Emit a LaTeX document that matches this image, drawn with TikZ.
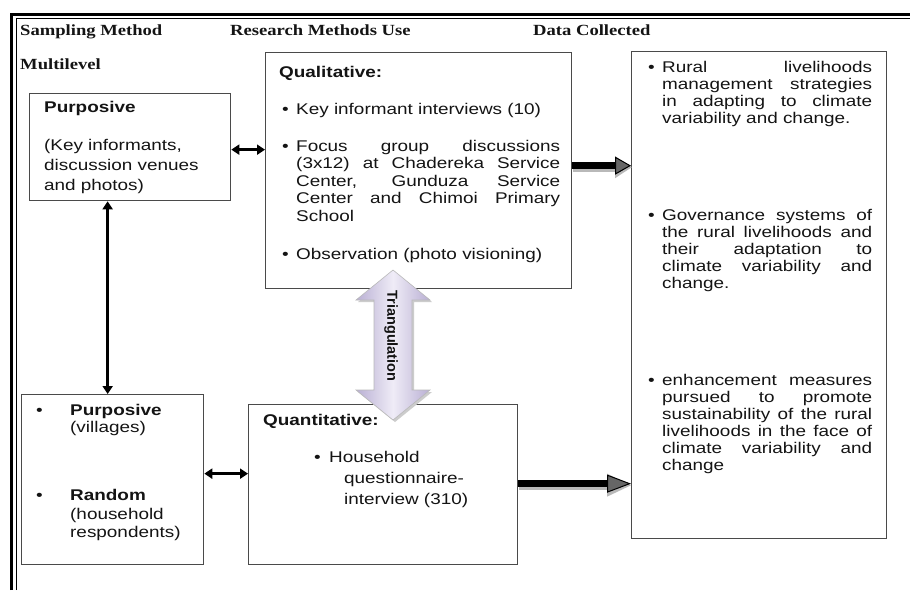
\documentclass[tikz,border=0pt]{standalone}
\usepackage{fontspec}
\setmainfont{Liberation Sans}[FakeStretch=1.22]
\newfontfamily\hdrfont{Liberation Serif}[FakeStretch=1.2]
\newfontfamily\trifont{Liberation Sans}
\usetikzlibrary{arrows.meta,calc}
\hyphenpenalty=10000 \exhyphenpenalty=10000 \tolerance=10000 \hbadness=10000
\definecolor{boxline}{HTML}{4A4A4A}
\definecolor{txt}{HTML}{141414}
\definecolor{lavD}{HTML}{B9AFD3}
\definecolor{lavL}{HTML}{EFECF7}
\begin{document}
\begin{tikzpicture}[x=1pt,y=-1pt,
  box/.style={draw=boxline, line width=1.3pt, fill=white, inner sep=0pt, anchor=north west},
  body/.style={font=\fontsize{15.5}{17}\selectfont, text=txt, inner sep=0pt, anchor=base west},
  hdr/.style={font=\hdrfont\bfseries\fontsize{15.5}{17}\selectfont, text=txt, inner sep=0pt, anchor=base west},
  para/.style={body, text width=#1, align=justify},
  lines/.style={body, text width=#1, align=left},
  thinarrow/.style={line width=2.6pt, {Triangle[length=8pt,width=10pt]}-{Triangle[length=8pt,width=10pt]}},
  bigarrowshadow/.style={line width=9pt, draw=gray!55},
  bigarrow/.style={line width=7pt, draw=black}
]
\useasboundingbox (0,0) rectangle (910,590);
\fill[white] (0,0) rectangle (910,590);
% frame
\draw[line width=3pt] (11.5,590) -- (11.5,14.5) -- (910,14.5);
\draw[line width=1pt] (16,590) -- (16,18.5) -- (910,18.5);
% headers
\node[hdr] (h1) at (20,35) {Sampling Method};
\node[hdr] (h2) at (230,35) {Research Methods Use};
\node[hdr] (h3) at (533,35) {Data Collected};
\node[hdr] (h4) at (20,69.5) {Multilevel};
% boxes
\node[box, minimum width=201pt, minimum height=107pt] (purp) at (29,93) {};
\node[box, minimum width=306pt, minimum height=236pt] (qual) at (265,52) {};
\node[box, minimum width=255pt, minimum height=487pt] (data) at (631,51) {};
\node[box, minimum width=182pt, minimum height=170pt] (bl) at (21,394) {};
\node[box, minimum width=269pt, minimum height=160pt] (quant) at (248,404) {};
% purposive box text
\node[body, font=\bfseries\fontsize{15.5}{17}\selectfont] (pt1) at (44,112.5) {Purposive};
\node[lines=180pt, font=\fontsize{15.5}{20}\selectfont] (pt2) at (44,150) {(Key informants,\\discussion venues\\and photos)};
% qualitative text
\node[body, font=\bfseries\fontsize{15.5}{17}\selectfont] (qt0) at (279,77) {Qualitative:};
\node[body] (qb1) at (282,114) {•};
\node[para=264pt] (qt1) at (296,114) {Key informant interviews (10)};
\node[body] (qb2) at (282,151) {•};
\node[para=264pt, font=\fontsize{15.5}{17.5}\selectfont] (qt2) at (296,151) {Focus group discussions\linebreak (3x12) at Chadereka Service\linebreak Center, Gunduza Service\linebreak Center and Chimoi Primary\linebreak School};
\node[body] (qb3) at (282,259) {•};
\node[para=264pt] (qt3) at (296,259) {Observation (photo visioning)};
% data collected text
\node[body] (db1) at (648,72) {•};
\node[para=210pt] (dt1) at (662,72) {Rural livelihoods\linebreak management strategies\linebreak in adapting to climate\linebreak variability and change.};
\node[body] (db2) at (648,220) {•};
\node[para=210pt] (dt2) at (662,220) {Governance systems of\linebreak the rural livelihoods and\linebreak their adaptation to\linebreak climate variability and\linebreak change.};
\node[body] (db3) at (648,385) {•};
\node[para=210pt] (dt3) at (662,385) {enhancement measures\linebreak pursued to promote\linebreak sustainability of the rural\linebreak livelihoods in the face of\linebreak climate variability and\linebreak change};
% bottom-left text
\node[body] (bb1) at (36,415.5) {•};
\node[lines=130pt] (bt1) at (70,415.5) {\textbf{Purposive}\\(villages)};
\node[body] (bb2) at (36,500.5) {•};
\node[lines=130pt, font=\fontsize{15.5}{18.5}\selectfont] (bt2) at (70,500.5) {\textbf{Random}\\(household\\respondents)};
% quantitative text
\node[body, font=\bfseries\fontsize{15.5}{17}\selectfont] (nt0) at (263,425) {Quantitative:};
\node[body] (nb1) at (314,462) {•};
\node[body] (nt1) at (329,462) {Household};
\node[lines=160pt, font=\fontsize{15.5}{21}\selectfont] (nt2) at (344,483) {questionnaire-\\interview (310)};
% thin double arrows
\coordinate (pa) at ([yshift=-2.5pt]purp.east);
\draw[thinarrow] (pa) -- (pa -| qual.west);
\coordinate (ba) at ([yshift=6pt]bl.east);
\draw[thinarrow] (ba) -- (ba -| quant.west);
\coordinate (va) at ([xshift=-22.5pt]purp.south);
\draw[thinarrow] (va) -- (va |- bl.north);
% big arrows
\coordinate (ua) at ([yshift=5pt]qual.east);
\coordinate (ub) at (ua -| data.west);
\draw[bigarrowshadow, -{Triangle[length=17pt,width=21pt]}] ([shift={(1pt,-1.5pt)}]ua) -- ([shift={(1pt,-1.5pt)}]ub);
\draw[bigarrow, -{Triangle[length=16pt,width=18pt,line width=1pt,fill=black!60]}] (ua) -- (ub);
\coordinate (la) at ([yshift=1pt]quant.east);
\coordinate (lb) at (la -| data.west);
\draw[bigarrowshadow, -{Triangle[length=25pt,width=21pt]}] ([shift={(1pt,-1.5pt)}]la) -- ([shift={(1pt,-1.5pt)}]lb);
\draw[bigarrow, -{Triangle[length=24pt,width=18pt,line width=1pt,fill=black!60]}] (la) -- (lb);
% triangulation block arrow
\fill[gray!40] (395,272) -- (432,302) -- (414,302) -- (414,392) -- (432,392) -- (395,422) -- (358,392) -- (376,392) -- (376,302) -- (358,302) -- cycle;
\path[left color=lavD, right color=lavD, middle color=lavL, draw=gray!55, line width=0.6pt] (393,270) -- (430,300) -- (412,300) -- (412,390) -- (430,390) -- (393,420) -- (356,390) -- (374,390) -- (374,300) -- (356,300) -- cycle;
\node[font=\trifont\bfseries\fontsize{14.5}{16}\selectfont, rotate=-90, text=txt, inner sep=0pt] (tri) at (391,336) {Triangulation};
\end{tikzpicture}
\end{document}
